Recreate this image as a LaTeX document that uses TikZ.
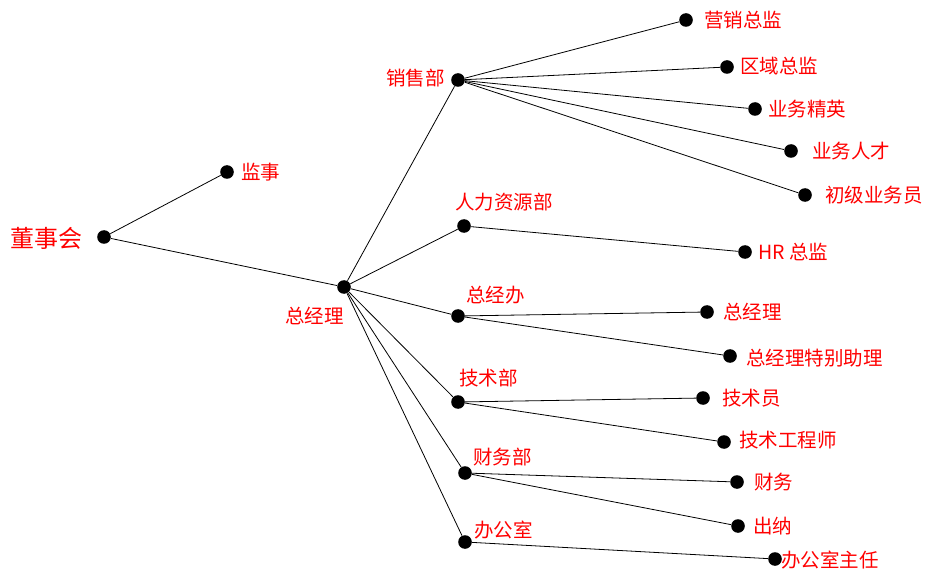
\documentclass[tikz,border=0pt]{standalone}
\usepackage{fontspec}
\setmainfont{Noto Sans CJK SC}
\usepackage{xcolor}

\begin{document}
\begin{tikzpicture}[x=1pt, y=-1pt, line width=0.8pt,
	dot/.style={circle, fill=black, inner sep=0pt, minimum size=13.6pt},
	lbl/.style={text=red, anchor=west, inner sep=0pt, font=\fontsize{19.5}{19.5}\selectfont}]
	\useasboundingbox (0,0) rectangle (940,580);
	% dots and their labels
	\foreach \n/\x/\y/\lx/\ly/\t in {
		js/227/172/241/172/监事, zjl/344/287/285/316/总经理,
		xsb/458/80/386/78/销售部, yxzj/686/20/704/20/营销总监,
		qyzj/727/67/740/66/区域总监, ywjy/755/109/768/109/业务精英,
		ywrc/791/151/812/151/业务人才, cjywy/805/195/825/195/初级业务员,
		rlb/464/226/455/202/人力资源部, hrzj/745/252/758/252/HR 总监,
		zjb/458/316/466/295/总经办, zjl2/707/312/723/312/总经理,
		tbzl/730/356/746/358/总经理特别助理, jsb/458/402/459/378/技术部,
		jsy/703/398/722/398/技术员, jsgcs/724/442/739/440/技术工程师,
		cwb/465/473/473/457/财务部, cw/737/482/754/482/财务,
		cn/738/526/753/526/出纳, bgs/465/542/474/530/办公室,
		bgszr/775/559/781/560/办公室主任}
	{
		\node[dot] (\n) at (\x, \y) {};
		\node[lbl] (\n-t) at (\lx, \ly) {\t};
	}
	\node[dot] (dsh) at (104, 237) {};
	\node[lbl, font=\fontsize{24}{24}\selectfont] (dsh-t) at (10, 238) {董事会};
	% connectors
	\draw (dsh) -- (js);
	\draw (dsh) -- (zjl);
	\foreach \b in {xsb, rlb, zjb, jsb, cwb, bgs}
		\draw (zjl) -- (\b);
	\foreach \b in {yxzj, qyzj, ywjy, ywrc, cjywy}
		\draw (xsb) -- (\b);
	\draw (rlb) -- (hrzj);
	\draw (zjb) -- (zjl2);
	\draw (zjb) -- (tbzl);
	\draw (jsb) -- (jsy);
	\draw (jsb) -- (jsgcs);
	\draw (cwb) -- (cw);
	\draw (cwb) -- (cn);
	\draw (bgs) -- (bgszr);
\end{tikzpicture}
\end{document}
